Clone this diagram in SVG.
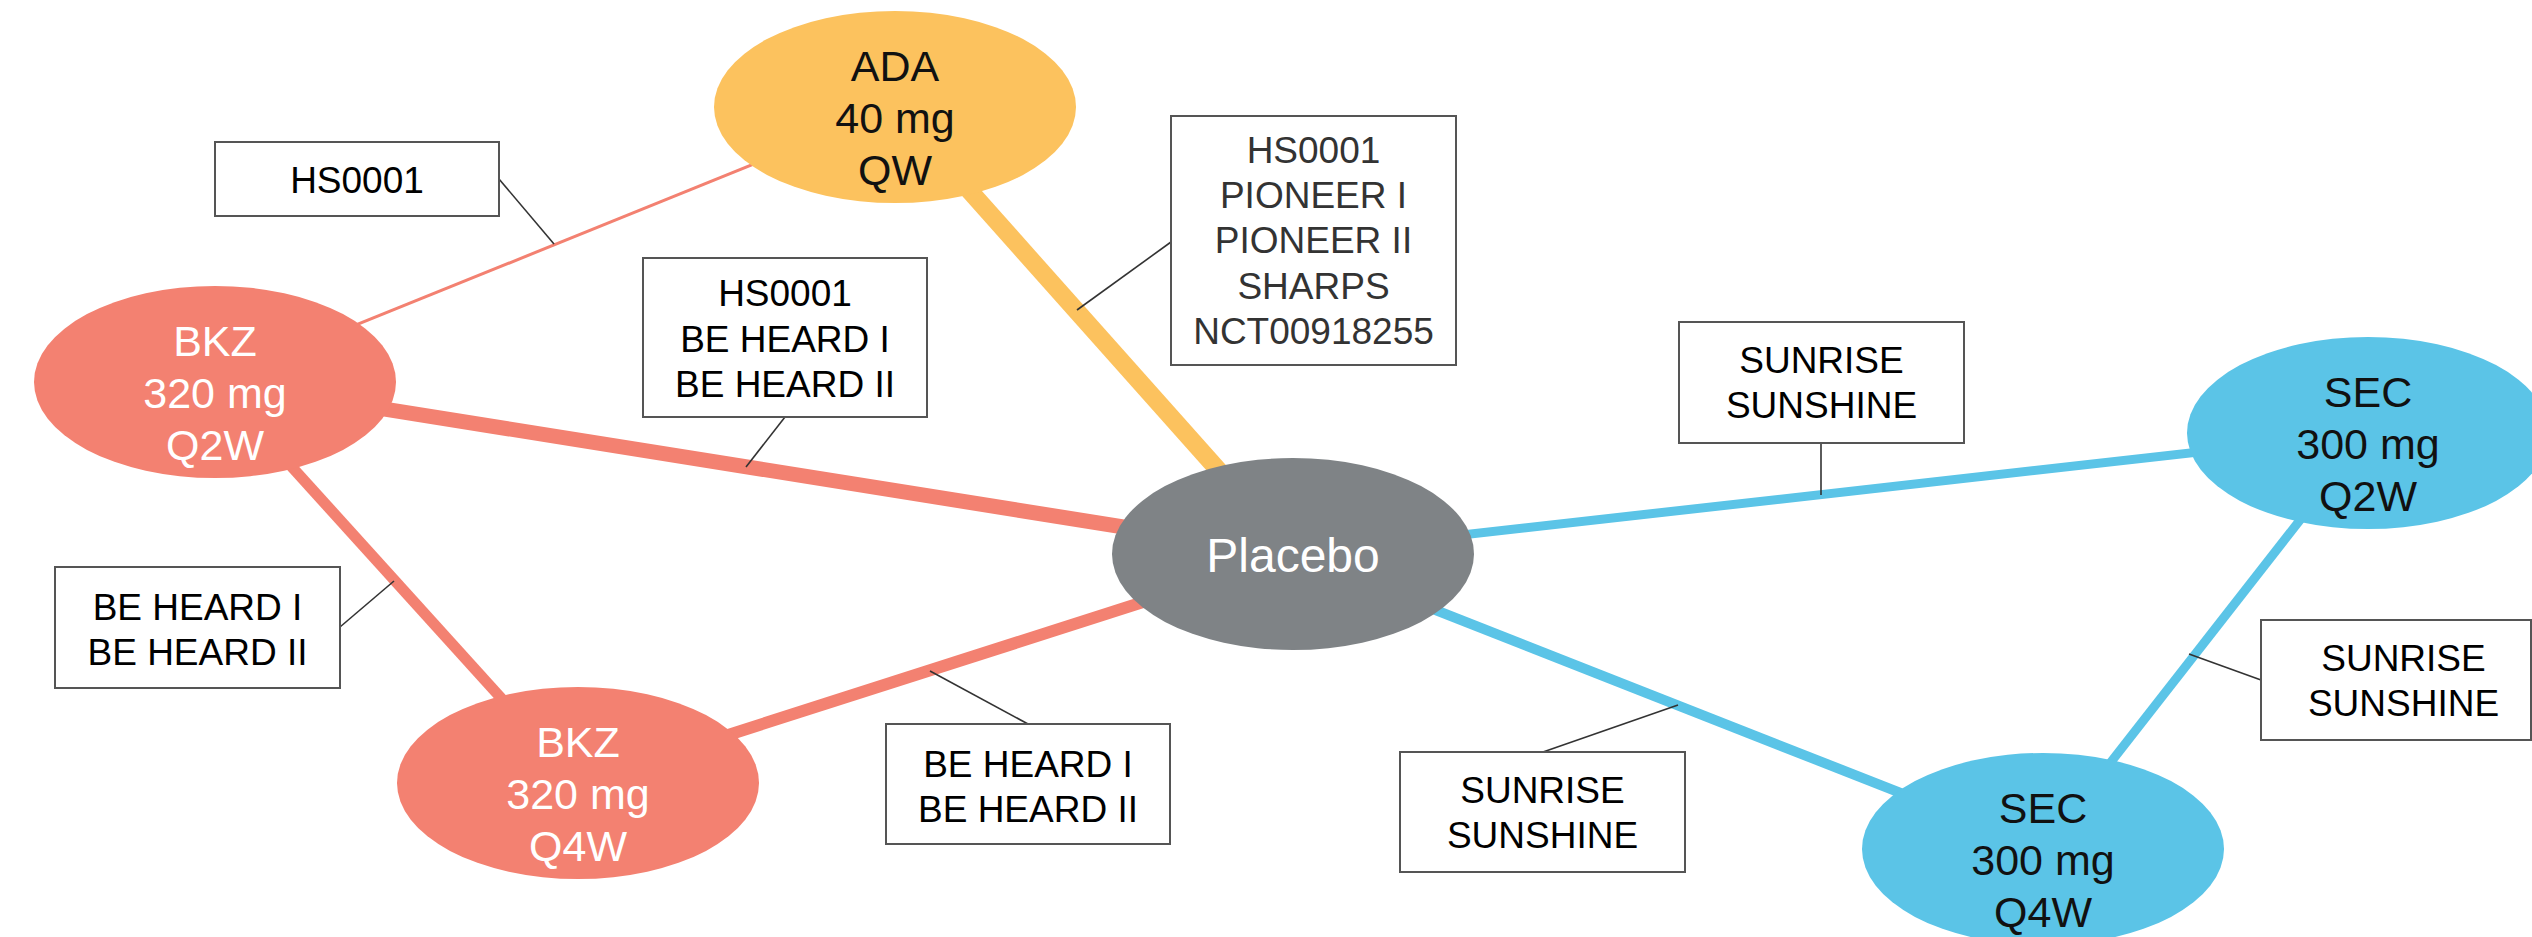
<svg xmlns="http://www.w3.org/2000/svg" width="2532" height="937" viewBox="0 0 2532 937">
<style>
.edge{fill:none;stroke-linecap:butt}
.salmon{stroke:#F38171}
.orange{stroke:#FCC25E}
.blue{stroke:#5BC4E7}
.leader{stroke:#333;stroke-width:1.6;fill:none}
.box{fill:#fff;stroke:#555;stroke-width:2}
.lbl{font-family:"Liberation Sans",Arial,sans-serif;font-size:37px;text-anchor:middle;fill:#000}
.ntxt{font-family:"Liberation Sans",Arial,sans-serif;font-size:43px;text-anchor:middle}
</style>
<rect width="2532" height="937" fill="#fff"/>
<g id="connectors">
<line class="edge salmon" x1="215" y1="382" x2="895" y2="107" stroke-width="3"/>
<line class="edge orange" x1="895" y1="107" x2="1293" y2="554" stroke-width="18"/>
<line class="edge salmon" x1="215" y1="382" x2="1293" y2="554" stroke-width="15"/>
<line class="edge salmon" x1="215" y1="382" x2="578" y2="783" stroke-width="11"/>
<line class="edge salmon" x1="578" y1="783" x2="1293" y2="554" stroke-width="12"/>
<line class="edge blue" x1="1293" y1="554" x2="2368" y2="433" stroke-width="9"/>
<line class="edge blue" x1="1293" y1="554" x2="2043" y2="849" stroke-width="10"/>
<line class="edge blue" x1="2368" y1="433" x2="2043" y2="849" stroke-width="9"/>
<line class="leader" x1="499" y1="179" x2="554" y2="244"/>
<line class="leader" x1="785" y1="417" x2="746" y2="467"/>
<line class="leader" x1="1171" y1="242" x2="1077" y2="310"/>
<line class="leader" x1="340" y1="627" x2="394" y2="581"/>
<line class="leader" x1="1028" y1="724" x2="930" y2="671"/>
<line class="leader" x1="1821" y1="443" x2="1821" y2="495"/>
<line class="leader" x1="1543" y1="752" x2="1678" y2="705"/>
<line class="leader" x1="2261" y1="680" x2="2189" y2="654"/>
</g>
<g id="node-ada">
<ellipse cx="895" cy="107" rx="181" ry="96" fill="#FCC25E"/>
<text class="ntxt" fill="#111"><tspan x="895" y="81">ADA</tspan><tspan x="895" y="133">40 mg</tspan><tspan x="895" y="185">QW</tspan></text>
</g>
<g id="node-bkz-q2w">
<ellipse cx="215" cy="382" rx="181" ry="96" fill="#F38171"/>
<text class="ntxt" fill="#fff"><tspan x="215" y="356">BKZ</tspan><tspan x="215" y="408">320 mg</tspan><tspan x="215" y="460">Q2W</tspan></text>
</g>
<g id="node-bkz-q4w">
<ellipse cx="578" cy="783" rx="181" ry="96" fill="#F38171"/>
<text class="ntxt" fill="#fff"><tspan x="578" y="757">BKZ</tspan><tspan x="578" y="809">320 mg</tspan><tspan x="578" y="861">Q4W</tspan></text>
</g>
<g id="node-placebo">
<ellipse cx="1293" cy="554" rx="181" ry="96" fill="#7F8386"/>
<text x="1293" y="572" font-family="Liberation Sans, Arial, sans-serif" font-size="48" text-anchor="middle" fill="#fff">Placebo</text>
</g>
<g id="node-sec-q2w">
<ellipse cx="2368" cy="433" rx="181" ry="96" fill="#5BC4E7"/>
<text class="ntxt" fill="#111"><tspan x="2368" y="407">SEC</tspan><tspan x="2368" y="459">300 mg</tspan><tspan x="2368" y="511">Q2W</tspan></text>
</g>
<g id="node-sec-q4w">
<ellipse cx="2043" cy="849" rx="181" ry="96" fill="#5BC4E7"/>
<text class="ntxt" fill="#111"><tspan x="2043" y="823">SEC</tspan><tspan x="2043" y="875">300 mg</tspan><tspan x="2043" y="927">Q4W</tspan></text>
</g>
<g id="label-ada-bkz">
<rect class="box" x="215" y="142" width="284" height="74"/>
<text class="lbl" x="357" y="193">HS0001</text>
</g>
<g id="label-bkz2-placebo">
<rect class="box" x="643" y="258" width="284" height="159"/>
<text class="lbl"><tspan x="785" y="306">HS0001</tspan><tspan x="785" y="352">BE HEARD I</tspan><tspan x="785" y="397">BE HEARD II</tspan></text>
</g>
<g id="label-ada-placebo">
<rect class="box" x="1171" y="116" width="285" height="249"/>
<text class="lbl" style="fill:#333"><tspan x="1313.5" y="163">HS0001</tspan><tspan x="1313.5" y="208">PIONEER I</tspan><tspan x="1313.5" y="253">PIONEER II</tspan><tspan x="1313.5" y="299">SHARPS</tspan><tspan x="1313.5" y="344">NCT00918255</tspan></text>
</g>
<g id="label-bkz2-bkz4">
<rect class="box" x="55" y="567" width="285" height="121"/>
<text class="lbl"><tspan x="197.5" y="620">BE HEARD I</tspan><tspan x="197.5" y="665">BE HEARD II</tspan></text>
</g>
<g id="label-bkz4-placebo">
<rect class="box" x="886" y="724" width="284" height="120"/>
<text class="lbl"><tspan x="1028" y="777">BE HEARD I</tspan><tspan x="1028" y="822">BE HEARD II</tspan></text>
</g>
<g id="label-placebo-sec2">
<rect class="box" x="1679" y="322" width="285" height="121"/>
<text class="lbl"><tspan x="1821.5" y="373">SUNRISE</tspan><tspan x="1821.5" y="418">SUNSHINE</tspan></text>
</g>
<g id="label-placebo-sec4">
<rect class="box" x="1400" y="752" width="285" height="120"/>
<text class="lbl"><tspan x="1542.5" y="803">SUNRISE</tspan><tspan x="1542.5" y="848">SUNSHINE</tspan></text>
</g>
<g id="label-sec2-sec4">
<rect class="box" x="2261" y="620" width="270" height="120"/>
<text class="lbl"><tspan x="2403.5" y="671">SUNRISE</tspan><tspan x="2403.5" y="716">SUNSHINE</tspan></text>
</g>
</svg>
